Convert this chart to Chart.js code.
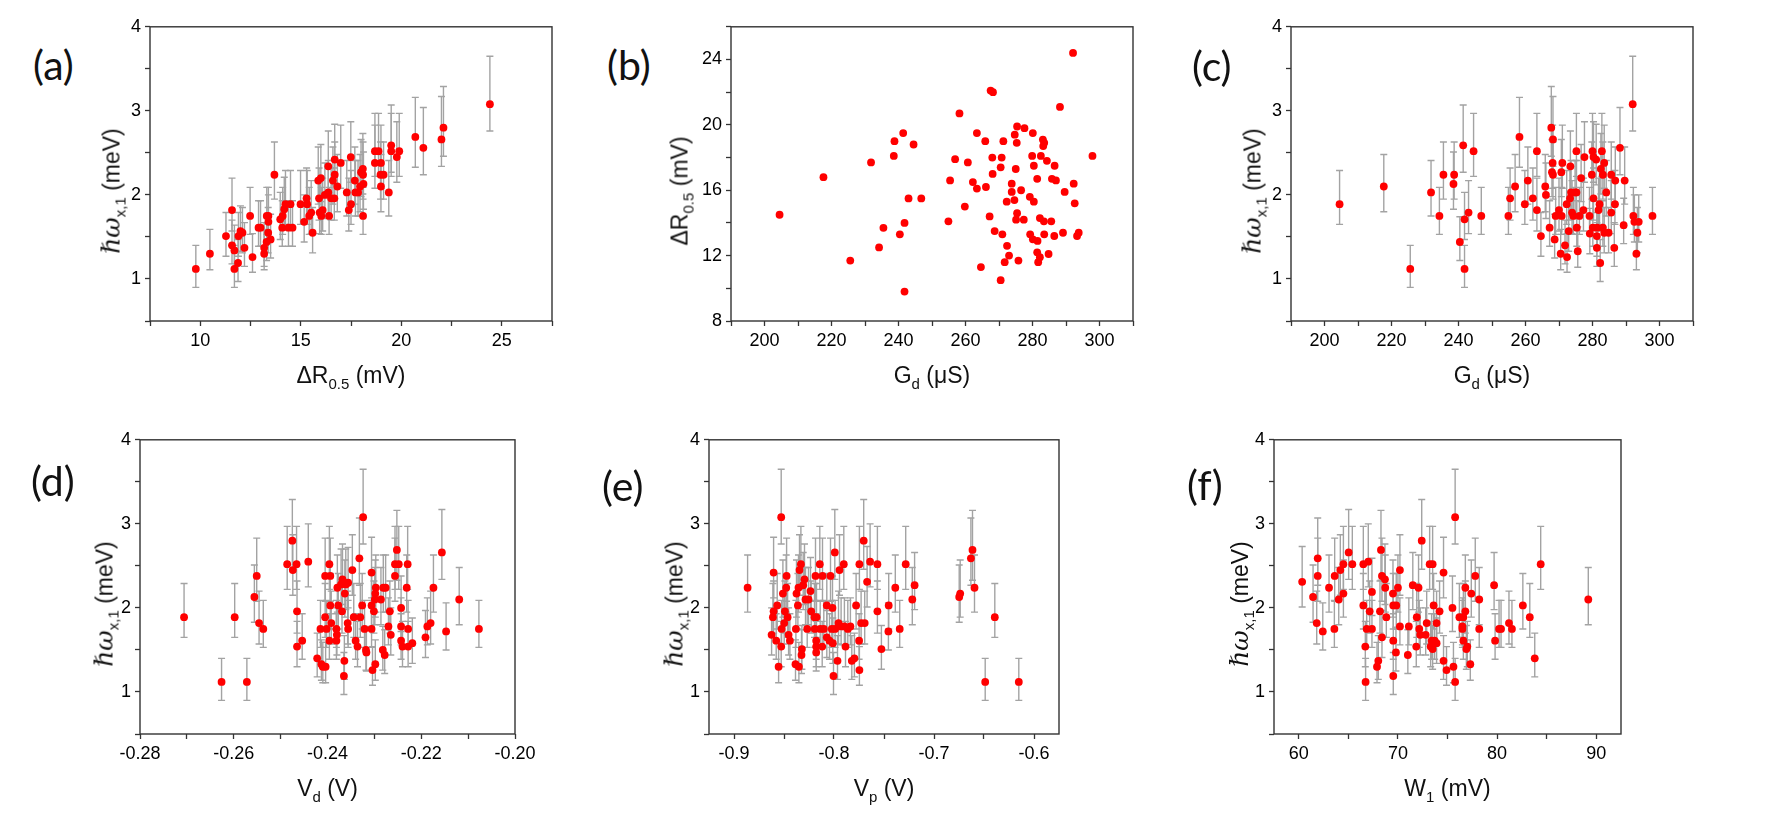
<!DOCTYPE html>
<html>
<head>
<meta charset="utf-8">
<script src="https://cdn.jsdelivr.net/npm/chart.js@4.4.1/dist/chart.umd.min.js"></script>
<style>
  body { margin: 0; width: 1765px; height: 829px; background: #fff; position: relative; overflow: hidden; }
  .panel { position: absolute; }
  .tag { position: absolute; font: 41px Lato, "Open Sans", sans-serif; color: #111; transform: translateY(-50%); }
  .xtitle, .ytitle { position: absolute; font: 23px "Liberation Sans", Arial, sans-serif; color: #111; white-space: nowrap; }
  .xtitle { transform: translate(-50%, -50%); }
  .ytitle { transform: translate(-50%, -50%) rotate(-90deg); }
  sub { font-size: 15px; vertical-align: -6px; line-height: 0; }
  .hb { font-family: "DejaVu Serif", serif; font-style: italic; font-size: 25px; }
</style>
</head>
<body>
<script>
// Error bar table: y level -> upper / lower extent
const yLevels = [1.12,1.19,1.26,1.30,1.37,1.44,1.51,1.55,1.61,1.68,1.75,1.82,1.89,1.96,2.03,2.10,2.17,2.24,2.31,2.38,2.45,2.52,2.59,2.66,2.70,2.80,3.08];
const errUp   = [0.28,0.28,0.28,0.29,0.30,0.30,0.28,0.30,0.32,0.32,0.34,0.38,0.40,0.36,0.38,0.38,0.40,0.39,0.42,0.45,0.42,0.45,0.48,0.51,0.47,0.49,0.57];
const errDown = [0.22,0.22,0.18,0.19,0.22,0.22,0.24,0.24,0.22,0.24,0.22,0.25,0.24,0.26,0.28,0.30,0.28,0.29,0.30,0.30,0.30,0.30,0.32,0.32,0.36,0.34,0.32];

// (a) hw vs dR0.5
const aX = [9.78,10.48,11.28,11.58,11.58,11.7,11.7,11.88,11.9,12.0,12.1,12.2,12.48,12.6,12.9,13.0,13.18,13.18,13.3,13.31,
  13.38,13.39,13.39,13.5,13.69,13.98,14.1,14.18,14.08,14.24,14.49,14.39,14.59,14.99,15.17,15.29,15.32,15.42,15.52,15.59,
  15.87,15.91,15.94,16.0,16.02,16.09,16.2,16.37,16.37,16.41,16.51,16.6,16.67,16.69,16.69,16.82,16.99,17.29,17.39,17.49,
  17.5,17.69,17.72,17.85,17.95,18.0,18.09,18.1,18.12,18.1,18.69,18.69,18.87,18.99,18.97,19.12,18.99,19.38,19.5,19.5,
  19.78,19.9,20.7,21.1,22.0,22.1,24.41];
const aY = [1.12,1.30,1.51,1.82,1.40,1.34,1.12,1.19,1.51,1.57,1.55,1.37,1.75,1.26,1.61,1.61,1.37,1.30,1.44,1.75,
  1.55,1.68,1.75,1.47,2.24,1.71,1.75,1.83,1.61,1.89,1.89,1.61,1.61,1.89,1.68,1.96,1.89,1.75,1.79,1.55,
  2.17,1.96,1.79,2.20,1.75,1.82,2.00,2.03,2.34,1.75,1.96,2.17,1.96,2.24,2.42,2.10,2.38,2.03,1.82,2.45,
  1.89,2.17,2.03,2.03,2.10,2.27,2.31,2.24,2.13,1.75,2.52,2.38,2.52,2.38,2.24,2.24,2.10,2.03,2.59,2.52,
  2.45,2.52,2.69,2.56,2.66,2.80,3.08];

// (b) dR0.5 vs Gd
const bX = [204.5,217.6,225.6,231.8,234.2,235.5,238.6,238.8,240.4,241.4,241.8,241.8,243.0,244.5,246.8,255.4,254.9,267.5,268.2,258.2,
  263.4,265.9,256.9,260.7,268.0,268.1,262.2,263.4,266.1,259.8,267.2,268.7,264.6,292.1,288.2,297.9,275.4,277.6,274.7,280.1,
  275.3,283.1,283.5,283.2,271.3,279.9,282.5,284.3,286.6,280.4,275.0,270.5,270.8,281.4,285.8,287.0,292.3,273.8,289.6,276.6,
  273.8,272.3,274.6,279.2,280.4,292.6,275.4,275.1,277.4,282.2,283.4,285.6,279.3,280.1,281.5,283.5,286.5,289.1,293.3,293.8,
  271.0,272.4,273.0,281.4,282.2,281.7,284.8,275.8,271.7,270.5];
const bY = [14.5,16.8,11.7,17.7,12.5,13.7,18.1,19.0,13.3,19.5,14.0,9.8,15.5,18.8,15.5,16.6,14.1,22.1,22.0,20.7,
  19.5,19.0,17.9,17.7,18.0,17.0,16.5,16.1,16.2,15.0,14.4,13.5,11.3,24.4,21.1,18.1,19.9,19.8,19.4,19.5,
  18.9,19.1,18.9,18.7,19.0,18.1,18.1,17.8,17.5,17.5,17.3,17.4,18.0,16.7,16.7,16.6,16.4,16.4,15.9,16.0,
  15.9,15.3,15.4,15.6,15.3,15.2,14.6,14.2,14.2,14.3,14.1,14.1,13.3,13.0,12.9,13.3,13.2,13.4,13.2,13.4,
  13.3,12.6,12.0,12.2,11.9,11.6,12.1,11.7,11.6,10.5];

// (c) hw vs Gd
const cX = [204.5,217.7,225.6,231.8,234.3,235.5,238.5,238.7,240.4,241.4,241.8,241.8,243.0,244.5,246.8,254.9,255.4,256.9,258.2,259.8,
  260.7,262.2,263.4,263.4,264.6,265.9,266.1,267.2,267.7,268.2,268.1,267.9,268.2,268.7,269.0,270.0,270.5,270.7,271.0,270.8,
  271.8,272.3,272.4,272.9,273.3,273.4,273.6,273.9,274.8,275.2,274.3,275.2,275.3,275.6,276.1,276.6,277.3,277.6,279.1,279.2,
  279.8,280.0,280.1,280.3,280.3,281.1,281.3,281.3,281.4,281.8,282.1,282.3,282.5,282.8,283.1,283.1,283.5,283.5,284.1,284.8,
  285.6,285.6,286.5,286.7,286.8,288.2,289.3,289.6,292.0,292.2,292.5,293.1,293.4,293.8,297.9];
const cY = [1.89,2.10,1.12,2.03,1.75,2.24,2.13,2.24,1.44,2.59,1.71,1.12,1.79,2.52,1.75,1.75,1.96,2.10,2.69,1.89,
  2.17,1.96,1.82,2.52,1.51,2.10,2.00,1.61,2.80,2.66,2.38,2.27,2.24,1.47,1.75,1.82,1.30,2.27,2.38,1.75,
  1.40,1.89,1.26,1.57,1.96,2.34,2.03,1.79,2.03,2.03,1.75,2.52,1.61,1.33,1.75,2.20,1.82,2.45,1.75,1.54,
  2.24,2.52,1.61,1.96,2.45,2.42,1.51,1.37,1.61,1.82,1.89,1.19,2.31,2.52,2.24,1.61,2.38,1.55,2.03,1.55,
  2.24,1.79,1.37,1.89,2.17,2.56,1.64,2.17,3.08,1.75,1.68,1.30,1.55,1.68,1.75];

// (d) hw vs Vd
const dX = [-0.2706,-0.2626,-0.2598,-0.2572,-0.2556,-0.2551,-0.2546,-0.2537,-0.2486,-0.2475,-0.2474,-0.2466,-0.2465,-0.2465,-0.2454,-0.2441,-0.2422,-0.2415,-0.2413,-0.2410,
  -0.2404,-0.2405,-0.2405,-0.2402,-0.2396,-0.2394,-0.2394,-0.2396,-0.2392,-0.2381,-0.2379,-0.2377,-0.2380,-0.2381,-0.2371,-0.2369,-0.2368,-0.2364,-0.2365,-0.2363,
  -0.2361,-0.2356,-0.2357,-0.2356,-0.2347,-0.2344,-0.2340,-0.2336,-0.2332,-0.2330,-0.2326,-0.2324,-0.2321,-0.2318,-0.2317,-0.2306,-0.2306,-0.2306,-0.2304,-0.2301,
  -0.2299,-0.2298,-0.2298,-0.2297,-0.2286,-0.2282,-0.2281,-0.2278,-0.2276,-0.2267,-0.2270,-0.2265,-0.2256,-0.2256,-0.2252,-0.2248,-0.2243,-0.2243,-0.2243,-0.2240,
  -0.2231,-0.2229,-0.2228,-0.2228,-0.2219,-0.2191,-0.2187,-0.2180,-0.2174,-0.2156,-0.2147,-0.2119,-0.2077];
const dY = [1.89,1.12,1.89,1.12,2.13,2.38,1.82,1.75,2.52,2.80,2.45,2.52,1.96,1.54,1.61,2.55,1.40,1.75,1.33,1.30,
  1.30,2.38,1.89,1.75,2.52,2.38,2.03,1.61,1.82,1.75,2.24,2.03,1.68,1.61,2.28,1.96,2.34,1.37,1.19,2.17,
  2.28,2.30,1.82,1.75,2.45,1.89,1.61,1.54,2.59,1.89,2.03,3.08,1.75,1.50,1.47,1.75,2.42,2.03,1.26,1.96,
  2.10,2.17,1.33,2.24,2.10,1.50,2.24,1.44,2.24,1.96,1.78,1.68,2.38,2.52,2.69,2.52,2.00,1.78,1.61,1.54,
  2.24,2.52,1.75,1.54,1.58,1.65,1.78,1.82,2.24,2.66,1.72,2.10,1.75];

// (e) hw vs Vp
const eX = [-0.8864,-0.8624,-0.8611,-0.8604,-0.8604,-0.8578,-0.8568,-0.8554,-0.8528,-0.8528,-0.8524,-0.8511,-0.8498,-0.8491,-0.8478,-0.8474,-0.8464,-0.8454,-0.8441,-0.8385,
  -0.8381,-0.8375,-0.8361,-0.8355,-0.8351,-0.8345,-0.8331,-0.8325,-0.8321,-0.8308,-0.8295,-0.8285,-0.8268,-0.8255,-0.8235,-0.8228,-0.8195,-0.8192,-0.8185,-0.8178,
  -0.8178,-0.8178,-0.8175,-0.8142,-0.8138,-0.8118,-0.8115,-0.8102,-0.8072,-0.8072,-0.8045,-0.8035,-0.8022,-0.8015,-0.8012,-0.8005,-0.7992,-0.7989,-0.7965,-0.7955,
  -0.7945,-0.7929,-0.7902,-0.7896,-0.7885,-0.7862,-0.7836,-0.7822,-0.7796,-0.7779,-0.7749,-0.7746,-0.7746,-0.7729,-0.7703,-0.7693,-0.7669,-0.7639,-0.7566,-0.7566,
  -0.7526,-0.7456,-0.7453,-0.7387,-0.7343,-0.7283,-0.7217,-0.7194,-0.6748,-0.6738,-0.6631,-0.6615,-0.6595,-0.6488,-0.6392,-0.6152];
const eY = [2.24,1.68,1.89,1.96,2.42,1.61,2.03,1.30,3.08,1.54,1.75,2.17,1.82,1.96,2.24,2.38,1.89,1.68,1.61,1.33,
  1.75,2.17,2.03,2.24,1.30,2.45,2.52,1.44,1.51,2.27,2.34,2.10,1.75,2.10,2.20,1.96,1.89,1.75,2.38,1.61,
  1.54,1.47,1.89,2.52,1.75,1.54,2.38,1.75,2.03,1.65,1.61,2.38,1.75,2.00,1.58,1.19,2.66,1.75,1.37,1.82,
  2.45,1.78,2.52,1.78,1.54,1.75,1.78,1.37,1.40,2.03,1.61,1.26,2.52,1.82,2.80,1.82,2.31,2.55,1.96,2.52,
  1.51,1.72,2.03,2.24,1.75,2.52,2.10,2.27,2.13,2.17,2.59,2.69,2.24,1.12,1.89,1.12];

// (f) hw vs W1
const fX = [60.34,61.44,61.81,61.91,61.91,62.42,63.05,63.59,63.62,64.03,64.19,64.50,64.50,65.03,65.40,66.51,66.51,66.71,66.74,66.85,
  67.01,67.15,67.38,67.38,67.89,68.02,68.19,68.29,68.39,68.39,68.69,68.72,68.83,69.50,69.53,69.53,69.53,69.80,69.83,70.0,
  70.2,70.2,71.0,71.1,71.5,71.85,71.9,72.08,72.15,72.25,72.4,72.8,72.9,73.2,73.3,73.5,73.5,73.6,73.4,73.7,
  73.9,73.9,74.2,74.6,74.6,74.9,75.5,75.6,75.77,75.77,76.2,76.5,76.5,76.6,76.6,76.8,76.8,76.9,77.0,77.3,
  77.4,77.8,78.2,78.2,79.7,79.8,80.2,80.4,81.2,81.5,82.6,83.3,83.8,84.4,89.2];
const fY = [2.31,2.13,1.82,2.38,2.59,1.72,2.24,1.75,2.38,2.10,2.45,2.52,2.17,2.66,2.52,2.52,2.03,1.54,1.12,1.75,
  2.55,1.96,1.75,2.19,1.30,1.37,1.96,2.69,2.38,1.65,2.34,2.24,1.89,2.17,2.03,1.61,1.19,1.47,2.03,2.24,
  2.45,1.78,1.44,1.78,2.27,1.54,1.89,2.24,1.75,1.68,2.80,1.68,1.82,2.52,1.54,1.51,2.52,2.03,1.61,1.61,
  1.82,1.58,1.96,1.37,2.42,1.26,2.00,1.30,3.08,1.12,1.89,1.78,1.75,1.89,1.61,1.96,2.24,1.51,1.54,1.33,
  2.17,2.38,1.75,2.10,2.27,1.61,1.75,1.75,1.82,1.75,2.03,1.89,1.40,2.52,2.10];

// Tick positions and labels
const hwTicks = [0.5,1,1.5,2,2.5,3,3.5,4];
const hwLabels = ['','1','','2','','3','','4'];
const drTicks = [8,10,12,14,16,18,20,22,24,26];
const drLabels = ['8','','12','','16','','20','','24',''];
const dRxTicks = [7.5,10,12.5,15,17.5,20,22.5,25,27.5];
const dRxLabels = ['','10','','15','','20','','25',''];
const gdTicks = [190,200,210,220,230,240,250,260,270,280,290,300,310];
const gdLabels = ['','200','','220','','240','','260','','280','','300',''];
const vdTicks = [-0.28,-0.27,-0.26,-0.25,-0.24,-0.23,-0.22,-0.21,-0.20];
const vdLabels = ['-0.28','','-0.26','','-0.24','','-0.22','','-0.20'];
const vpTicks = [-0.9,-0.85,-0.8,-0.75,-0.7,-0.65,-0.6];
const vpLabels = ['-0.9','','-0.8','','-0.7','','-0.6'];
const w1Ticks = [60,65,70,75,80,85,90];
const w1Labels = ['60','','70','','80','','90'];

const HW = '<span class="hb">\u210F\u03C9</span><sub>x,1</sub> (meV)';

const panels = [
  { tag: '(a)', xs: aX, ys: aY, err: true, box: [150, 24, 402, 297], xr: [7.5, 27.5], xt: dRxTicks, xl: dRxLabels,
    yr: [0.5, 4], yt: hwTicks, yl: hwLabels, xTitle: '\u0394R<sub>0.5</sub> (mV)', yTitle: HW, yOff: 39, tagPos: [33, 64] },
  { tag: '(b)', xs: bX, ys: bY, err: false, box: [731, 24, 402, 297], xr: [190, 310], xt: gdTicks, xl: gdLabels,
    yr: [8, 26], yt: drTicks, yl: drLabels, xTitle: 'G<sub>d</sub> (\u03BCS)', yTitle: '\u0394R<sub>0.5</sub> (mV)', yOff: 51, tagPos: [607, 64] },
  { tag: '(c)', xs: cX, ys: cY, err: true, box: [1291, 24, 402, 297], xr: [190, 310], xt: gdTicks, xl: gdLabels,
    yr: [0.5, 4], yt: hwTicks, yl: hwLabels, xTitle: 'G<sub>d</sub> (\u03BCS)', yTitle: HW, yOff: 39, tagPos: [1192, 65] },
  { tag: '(d)', xs: dX, ys: dY, err: true, box: [140, 437, 375, 297], xr: [-0.28, -0.20], xt: vdTicks, xl: vdLabels,
    yr: [0.5, 4], yt: hwTicks, yl: hwLabels, xTitle: 'V<sub>d</sub> (V)', yTitle: HW, yOff: 36, tagPos: [31, 480] },
  { tag: '(e)', xs: eX, ys: eY, err: true, box: [709, 437, 350, 297], xr: [-0.925, -0.575], xt: vpTicks, xl: vpLabels,
    yr: [0.5, 4], yt: hwTicks, yl: hwLabels, xTitle: 'V<sub>p</sub> (V)', yTitle: HW, yOff: 35, tagPos: [602, 485] },
  { tag: '(f)', xs: fX, ys: fY, err: true, box: [1274, 437, 347, 297], xr: [57.5, 92.5], xt: w1Ticks, xl: w1Labels,
    yr: [0.5, 4], yt: hwTicks, yl: hwLabels, xTitle: 'W<sub>1</sub> (mV)', yTitle: HW, yOff: 35, tagPos: [1187, 484] }
];

function levelIndex(v) {
  let best = 0;
  yLevels.forEach((l, i) => { if (Math.abs(l - v) < Math.abs(yLevels[best] - v)) best = i; });
  return best;
}

// gray error bars drawn under the points
const errorBars = {
  id: 'errorBars',
  beforeDatasetsDraw(chart, args, opts) {
    if (!opts.show) return;
    const { ctx, chartArea, scales } = chart;
    const x = scales.x, y = scales.y;
    ctx.save();
    ctx.beginPath();
    ctx.rect(chartArea.left, chartArea.top, chartArea.width, chartArea.height);
    ctx.clip();
    ctx.strokeStyle = '#a3a3a3';
    ctx.lineWidth = 1.4;
    chart.data.datasets[0].data.forEach(p => {
      const i = levelIndex(p.y);
      const px = x.getPixelForValue(p.x);
      const top = y.getPixelForValue(p.y + errUp[i]);
      const bot = y.getPixelForValue(p.y - errDown[i]);
      ctx.beginPath();
      ctx.moveTo(px, top); ctx.lineTo(px, bot);
      ctx.moveTo(px - 3.5, top); ctx.lineTo(px + 3.5, top);
      ctx.moveTo(px - 3.5, bot); ctx.lineTo(px + 3.5, bot);
      ctx.stroke();
    });
    ctx.restore();
  }
};

// closed frame around the plot area
const frame = {
  id: 'frame',
  afterDatasetsDraw(chart) {
    const { ctx, chartArea: a } = chart;
    ctx.save();
    ctx.strokeStyle = '#333';
    ctx.lineWidth = 1.4;
    ctx.strokeRect(a.left, a.top, a.width, a.height);
    ctx.restore();
  }
};

const PADL = 70, PADT = 12, PADR = 30, PADB = 45;
const tickFont = { family: '"Liberation Sans", Arial, sans-serif', size: 18 };

panels.forEach(p => {
  const [L, T, W, H] = p.box;
  const div = document.createElement('div');
  div.className = 'panel';
  div.style.left = (L - PADL) + 'px';
  div.style.top = (T - PADT) + 'px';
  div.style.width = (W + PADL + PADR) + 'px';
  div.style.height = (H + PADT + PADB) + 'px';
  const canvas = document.createElement('canvas');
  div.appendChild(canvas);
  document.body.appendChild(div);

  const tag = document.createElement('div');
  tag.className = 'tag';
  tag.textContent = p.tag;
  tag.style.left = p.tagPos[0] + 'px';
  tag.style.top = p.tagPos[1] + 'px';
  document.body.appendChild(tag);

  const xt = document.createElement('div');
  xt.className = 'xtitle';
  xt.innerHTML = p.xTitle;
  xt.style.left = (L + W / 2) + 'px';
  xt.style.top = (T + H + 54) + 'px';
  document.body.appendChild(xt);

  const yt = document.createElement('div');
  yt.className = 'ytitle';
  yt.innerHTML = p.yTitle;
  yt.style.left = (L - p.yOff) + 'px';
  yt.style.top = (T + H / 2 + 18) + 'px';
  document.body.appendChild(yt);

  const pts = p.xs.map((v, i) => ({ x: v, y: p.ys[i] }));

  new Chart(canvas, {
    type: 'scatter',
    data: {
      datasets: [{
        data: pts,
        backgroundColor: '#ff0000',
        borderColor: '#ff0000',
        borderWidth: 0,
        pointRadius: 3.9,
        pointHoverRadius: 3.9
      }]
    },
    plugins: [errorBars, frame],
    options: {
      responsive: true,
      maintainAspectRatio: false,
      animation: false,
      layout: { padding: { top: PADT, right: PADR, left: 0, bottom: 0 } },
      plugins: {
        legend: { display: false },
        tooltip: { enabled: false },
        errorBars: { show: p.err }
      },
      scales: {
        x: {
          type: 'linear',
          min: p.xr[0],
          max: p.xr[1],
          afterBuildTicks: s => { s.ticks = p.xt.map(v => ({ value: v })); },
          afterFit: s => { s.height = PADB; },
          border: { display: false },
          grid: { drawOnChartArea: false, drawTicks: true, tickLength: 5, tickColor: '#333', tickWidth: 1.3 },
          ticks: { autoSkip: false, maxRotation: 0, padding: 4, color: '#000', font: tickFont,
            callback: (v, i) => p.xl[i] }
        },
        y: {
          type: 'linear',
          min: p.yr[0],
          max: p.yr[1],
          afterBuildTicks: s => { s.ticks = p.yt.map(v => ({ value: v })); },
          afterFit: s => { s.width = PADL; },
          border: { display: false },
          grid: { drawOnChartArea: false, drawTicks: true, tickLength: 5, tickColor: '#333', tickWidth: 1.3 },
          ticks: { autoSkip: false, padding: 4, color: '#000', font: tickFont,
            callback: (v, i) => p.yl[i] }
        }
      }
    }
  });
});
</script>
</body>
</html>
